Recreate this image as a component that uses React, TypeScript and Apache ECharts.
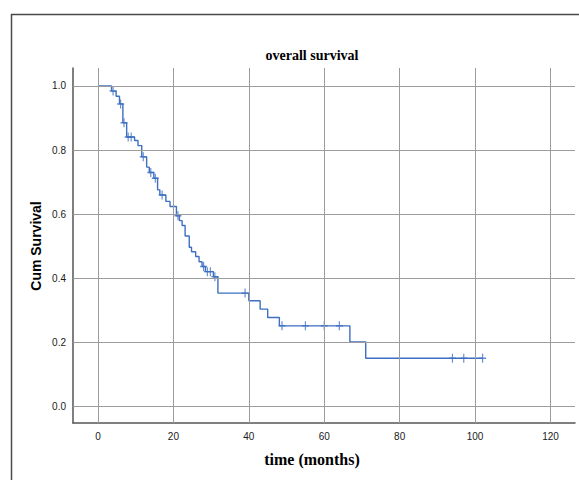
import React, { useEffect, useRef } from "react";
import * as echarts from "echarts";

// Kaplan-Meier step curve: time of each drop and survival after the drop (last = end of follow-up)
const stepTimes = [0, 3.6, 4.8, 5.7, 6.6, 7.6, 9.7, 10.6, 11.6, 12.9, 13.6, 14.8, 15.8, 16.4, 18.0, 19.1, 20.8, 21.6, 22.3, 23.1, 24.2, 24.8, 25.9, 26.8, 27.6, 28.5, 30.6, 31.8, 40.0, 43.0, 45.0, 48.1, 66.8, 71.0, 102.0];
const stepSurvival = [1.0, 0.984, 0.968, 0.944, 0.885, 0.841, 0.83, 0.814, 0.779, 0.747, 0.73, 0.712, 0.676, 0.66, 0.64, 0.624, 0.595, 0.58, 0.565, 0.532, 0.497, 0.483, 0.468, 0.452, 0.437, 0.421, 0.405, 0.354, 0.33, 0.304, 0.278, 0.252, 0.202, 0.151, 0.151];

// Censored observations
const censorTimes = [4.0, 6.0, 6.9, 8.0, 8.8, 12.0, 14.0, 15.2, 17.0, 21.2, 28.0, 29.0, 29.8, 31.0, 39.0, 48.8, 55.0, 60.0, 64.0, 94.0, 97.0, 102.0];
const censorSurvival = [0.984, 0.944, 0.885, 0.841, 0.841, 0.779, 0.73, 0.712, 0.66, 0.595, 0.437, 0.421, 0.421, 0.405, 0.354, 0.252, 0.252, 0.252, 0.252, 0.151, 0.151, 0.151];

const xTicks = [0, 20, 40, 60, 80, 100, 120];
const yTicks = [0, 0.2, 0.4, 0.6, 0.8, 1.0];

const titleText = "overall survival";
const xTitle = "time (months)";
const yTitle = "Cum Survival";

const LINE_BLUE = "#3d6fc2";
const GRID_GRAY = "#9c9c9c";

export default function App() {
  const ref = useRef<HTMLDivElement>(null);

  useEffect(() => {
    if (!ref.current) return;
    const chart = echarts.init(ref.current, undefined, { renderer: "svg" });

    const stepData = stepTimes.map((t, i) => [t, stepSurvival[i]]);
    const censorData = censorTimes.map((t, i) => [t, censorSurvival[i]]);

    const gridLines = [
      ...xTicks.map((v) => ({ xAxis: v })),
      ...yTicks.map((v) => ({ yAxis: v })),
    ];

    const option: any = {
      animation: false,
      backgroundColor: "#ffffff",
      grid: { left: 73, right: 4, top: 68, bottom: 57, containLabel: false },
      xAxis: {
        type: "value",
        min: -6.63,
        max: 126.5,
        axisLine: { show: true, onZero: false, lineStyle: { color: "#555555", width: 1.5 } },
        axisTick: { show: false },
        splitLine: { show: false },
        axisLabel: {
          customValues: xTicks,
          color: "#1a1a1a",
          fontFamily: "Liberation Sans, Arial, sans-serif",
          fontSize: 10,
          margin: 8,
          formatter: (v: number) => String(Math.round(v)),
        },
      },
      yAxis: {
        type: "value",
        min: -0.051,
        max: 1.056,
        axisLine: { show: true, onZero: false, lineStyle: { color: "#555555", width: 1.5 } },
        axisTick: { show: false },
        splitLine: { show: false },
        axisLabel: {
          customValues: yTicks,
          color: "#1a1a1a",
          fontFamily: "Liberation Sans, Arial, sans-serif",
          fontSize: 10,
          margin: 7,
          formatter: (v: number) => v.toFixed(1),
        },
      },
      graphic: [
        { type: "line", shape: { x1: 11, y1: 14.5, x2: 579, y2: 14.5 }, style: { stroke: "#4a4a4a", lineWidth: 1.5 } },
        { type: "line", shape: { x1: 11.5, y1: 14, x2: 11.5, y2: 480 }, style: { stroke: "#4a4a4a", lineWidth: 1.5 } },
        {
          type: "text",
          x: 312,
          y: 55,
          style: {
            text: titleText,
            textAlign: "center",
            textVerticalAlign: "middle",
            font: "bold 14px 'Liberation Serif', 'Times New Roman', serif",
            fill: "#000000",
          },
        },
        {
          type: "text",
          x: 312,
          y: 459,
          style: {
            text: xTitle,
            textAlign: "center",
            textVerticalAlign: "middle",
            font: "bold 16px 'Liberation Serif', 'Times New Roman', serif",
            fill: "#000000",
          },
        },
        {
          type: "text",
          x: 36,
          y: 246,
          rotation: Math.PI / 2,
          style: {
            text: yTitle,
            textAlign: "center",
            textVerticalAlign: "middle",
            font: "bold 14px 'Liberation Sans', Arial, sans-serif",
            fill: "#000000",
          },
        },
      ],
      series: [
        {
          type: "line",
          data: [],
          z: 1,
          silent: true,
          markLine: {
            silent: true,
            symbol: "none",
            label: { show: false },
            lineStyle: { color: GRID_GRAY, type: "solid", width: 1 },
            data: gridLines,
          },
        },
        {
          type: "line",
          data: stepData,
          step: "end",
          z: 3,
          showSymbol: false,
          symbol: "none",
          lineStyle: { color: LINE_BLUE, width: 1.4 },
        },
        {
          type: "scatter",
          data: censorData,
          z: 4,
          symbol: "path://M5,0L5,10M0,5L10,5",
          symbolSize: [7, 9],
          itemStyle: { color: "rgba(0,0,0,0)", borderColor: LINE_BLUE, borderWidth: 1.3 },
        },
      ],
    };

    chart.setOption(option);
    return () => chart.dispose();
  }, []);

  return (
    <div
      ref={ref}
      style={{ position: "fixed", left: 0, top: 0, width: 579, height: 480, background: "#fff" }}
    />
  );
}
